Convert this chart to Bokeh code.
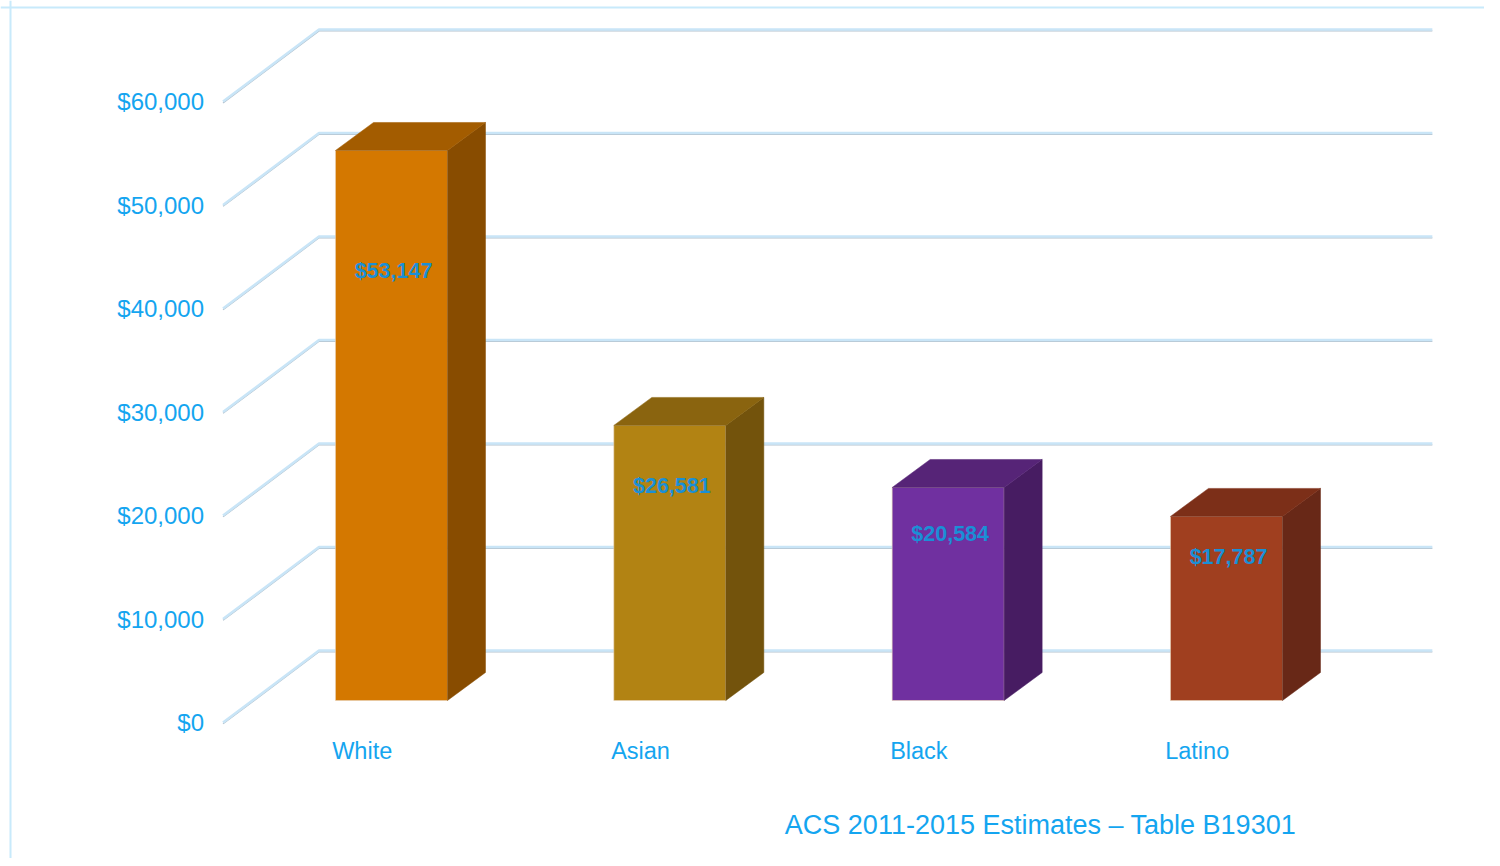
from bokeh.plotting import figure
from bokeh.models import Span, Label
from bokeh.embed import file_html
from bokeh.resources import INLINE
from bokeh.core.properties import value

# ---- data ----
categories = ["White", "Asian", "Black", "Latino"]
incomes = [53147, 26581, 20584, 17787]
income_labels = ["$53,147", "$26,581", "$20,584", "$17,787"]
front_colors = ["#D47800", "#B28313", "#7030A0", "#A03F1F"]
side_colors = ["#884C00", "#73530C", "#471C62", "#682817"]
top_colors = ["#A35C00", "#8A640F", "#562477", "#7C2F18"]
y_ticks = [0, 10000, 20000, 30000, 40000, 50000, 60000]
y_tick_labels = ["$0", "$10,000", "$20,000", "$30,000", "$40,000", "$50,000", "$60,000"]
source_note = "ACS 2011-2015 Estimates \u2013 Table B19301"

# ---- layout ----
W, H = 1484, 858
X0, X1 = -1.4048, 3.9270
Y0, Y1 = -15268, 67639
PX = (X1 - X0) / W   # x data units per pixel
PY = (Y1 - Y0) / H   # dollars per pixel
FONT_NAME = "Liberation Sans"
FONT = value(FONT_NAME)
AXIS_COLOR = "#14A5F0"

p = figure(width=W, height=H, x_range=(X0, X1), y_range=(Y0, Y1),
           output_backend="svg", toolbar_location=None, min_border=0,
           x_axis_type=None, y_axis_type=None,
           background_fill_color="white", border_fill_color="white")
p.grid.visible = False
p.outline_line_color = None

# 3D offsets (pixels -> data units)
half = 56 * PX
bdx, bdy = 38 * PX, 28 * PY          # bar depth
wdx, wdy = 66.7 * PX, 50 * PY        # bar plane -> back wall
fdx, fdy = -29.3 * PX, -22 * PY      # bar plane -> front floor edge
left_edge, right_edge = -0.5, len(categories) - 0.5

# ---- gridlines (back wall + left wall diagonals) ----
gx, gy = [], []
for t in y_ticks:
    gx.append([left_edge + fdx, left_edge + wdx, right_edge + wdx])
    gy.append([t + fdy, t + wdy, t + wdy])
gy_shadow = [[yy - 1.3 * PY for yy in row] for row in gy]
p.multi_line(xs=gx, ys=gy_shadow, line_color="#B3C2CE", line_width=1.3)
p.multi_line(xs=gx, ys=gy, line_color="#C9E5F7", line_width=2.6)

# ---- 3D bars ----
idx = list(range(len(categories)))
p.quad(left=[i - half for i in idx], right=[i + half for i in idx],
       bottom=[0] * len(idx), top=incomes, fill_color=front_colors,
       line_color="#E8D2B8", line_alpha=0.6, line_width=1)
side_xs = [[i + half, i + half + bdx, i + half + bdx, i + half] for i in idx]
side_ys = [[0, bdy, v + bdy, v] for v in incomes]
p.patches(xs=side_xs, ys=side_ys, fill_color=side_colors, line_color=side_colors, line_width=0.5)
top_xs = [[i - half, i + half, i + half + bdx, i - half + bdx] for i in idx]
top_ys = [[v, v, v + bdy, v + bdy] for v in incomes]
p.patches(xs=top_xs, ys=top_ys, fill_color=top_colors, line_color=top_colors, line_width=0.5)

# ---- value labels ----
p.text(x=[i + 2 * PX for i in idx], y=[0.78 * v for v in incomes], text=income_labels,
       text_font=FONT, text_font_style="bold", text_font_size="21.5px",
       text_color="#1A8FD6", text_align="center", text_baseline="middle")

# ---- y tick labels ----
p.text(x=[left_edge + fdx - 19 * PX] * len(y_ticks), y=[t + fdy for t in y_ticks],
       text=y_tick_labels, text_font=FONT, text_font_size="24px",
       text_color=AXIS_COLOR, text_align="right", text_baseline="middle")

# ---- category labels ----
p.text(x=[i + fdx for i in idx], y=[fdy - 29 * PY] * len(idx), text=categories,
       text_font=FONT, text_font_size="23.5px", text_color=AXIS_COLOR,
       text_align="center", text_baseline="middle")

# ---- source note ----
p.add_layout(Label(x=1040, y=34, x_units="screen", y_units="screen", text=source_note,
                   text_font=FONT_NAME, text_font_size="27px", text_color=AXIS_COLOR,
                   text_align="center", text_baseline="middle"))

# ---- border (left & top) ----
p.add_layout(Span(location=X0 + 10 * PX, dimension="height", line_color="#C8EAFB", line_width=2))
p.add_layout(Span(location=Y1 - 7 * PY, dimension="width", line_color="#C8EAFB", line_width=2))

open("out.html", "w").write(file_html(p, INLINE))
